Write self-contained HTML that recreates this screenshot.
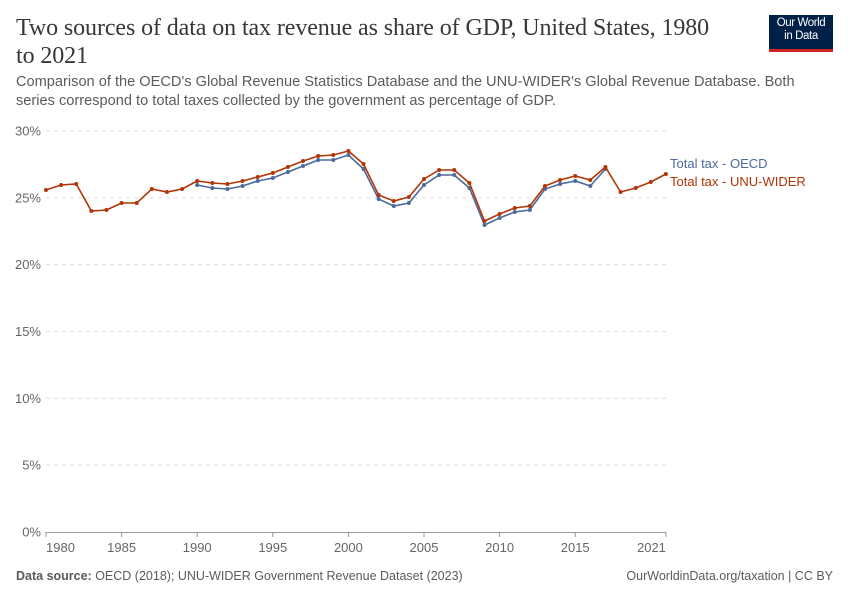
<!DOCTYPE html>
<html><head><meta charset="utf-8"><style>
body{margin:0;width:850px;height:600px;background:#fff;font-family:"Liberation Sans",sans-serif;position:relative;overflow:hidden}
.t{position:absolute;left:16px;top:14px;width:760px;font-family:"Liberation Serif",serif;font-size:24px;line-height:28px;color:#373737;letter-spacing:-0.1px;white-space:nowrap}
.s{position:absolute;left:16px;top:73px;width:810px;font-size:14.6px;line-height:19px;color:#5b5b5b}
.logo{position:absolute;left:769px;top:15px;width:64px;height:37px;background:#002147;border-bottom:3px solid #ce261e;color:#fff;font-size:11.5px;line-height:13px;text-align:center;padding-top:2px;box-sizing:border-box;letter-spacing:-0.4px}
.f{position:absolute;top:569px;font-size:12.5px;color:#5b5b5b}
</style></head><body>
<div class="t">Two sources of data on tax revenue as share of GDP, United States, 1980<br>to 2021</div>
<div class="s">Comparison of the OECD's Global Revenue Statistics Database and the UNU-WIDER's Global Revenue Database. Both series correspond to total taxes collected by the government as percentage of GDP.</div>
<div class="logo">Our World<br>in Data</div>
<svg id="c" width="850" height="600" style="position:absolute;left:0;top:0" font-family="Liberation Sans, sans-serif"></svg>
<div class="f" style="left:16px"><b>Data source:</b> OECD (2018); UNU-WIDER Government Revenue Dataset (2023)</div>
<div class="f" style="right:17px">OurWorldinData.org/taxation | CC BY</div>
<script>
var s='';
var X=function(y){return 46+(y-1980)*15.12};
for(var i=0;i<=6;i++){var y=532-i*66.83;
 if(i>0)s+='<line x1="46" x2="666" y1="'+y+'" y2="'+y+'" stroke="#ddd" stroke-dasharray="4,4"/>';
 s+='<text x="41" y="'+(y+4.5)+'" text-anchor="end" font-size="13" fill="#666">'+(i*5)+'%</text>';}
s+='<line x1="46" x2="666" y1="532.5" y2="532.5" stroke="#999"/>';
[1980,1985,1990,1995,2000,2005,2010,2015,2021].forEach(function(yr){var x=X(yr);
 var a='middle';if(yr==1980)a='start';if(yr==2021)a='end';
 s+='<line x1="'+x+'" x2="'+x+'" y1="532" y2="537" stroke="#999"/><text x="'+x+'" y="552" text-anchor="'+a+'" font-size="13" fill="#666">'+yr+'</text>';});
var o=[185,188,189,186,181,178,172,166,160,160,155,169,199,206,203,185,175,175,188,225,218,212,210,189,184,181,186,169];
var u=[190,185,184,211,210,203,203,189,192,189,181,183,184,181,177,173,167,161,156,155,151,164,195,201,197,179,170,170,183,221,214,208,206,186,180,176,180,167,192,188,182,174];
function ser(a,st,c){var p=a.map(function(y,i){return X(st+i).toFixed(1)+','+y}).join(' ');
 var r='<polyline points="'+p+'" fill="none" stroke="'+c+'" stroke-width="1.6"/>';
 a.forEach(function(y,i){r+='<circle cx="'+X(st+i)+'" cy="'+y+'" r="2" fill="'+c+'"/>'});return r;}
s+=ser(o,1990,'#4c6a9c');s+=ser(u,1980,'#b13507');
s+='<text x="670" y="168" font-size="13" fill="#4c6a9c">Total tax - OECD</text>';
s+='<text x="670" y="186" font-size="13" fill="#b13507">Total tax - UNU-WIDER</text>';
document.getElementById('c').innerHTML=s;
</script>
</body></html>
